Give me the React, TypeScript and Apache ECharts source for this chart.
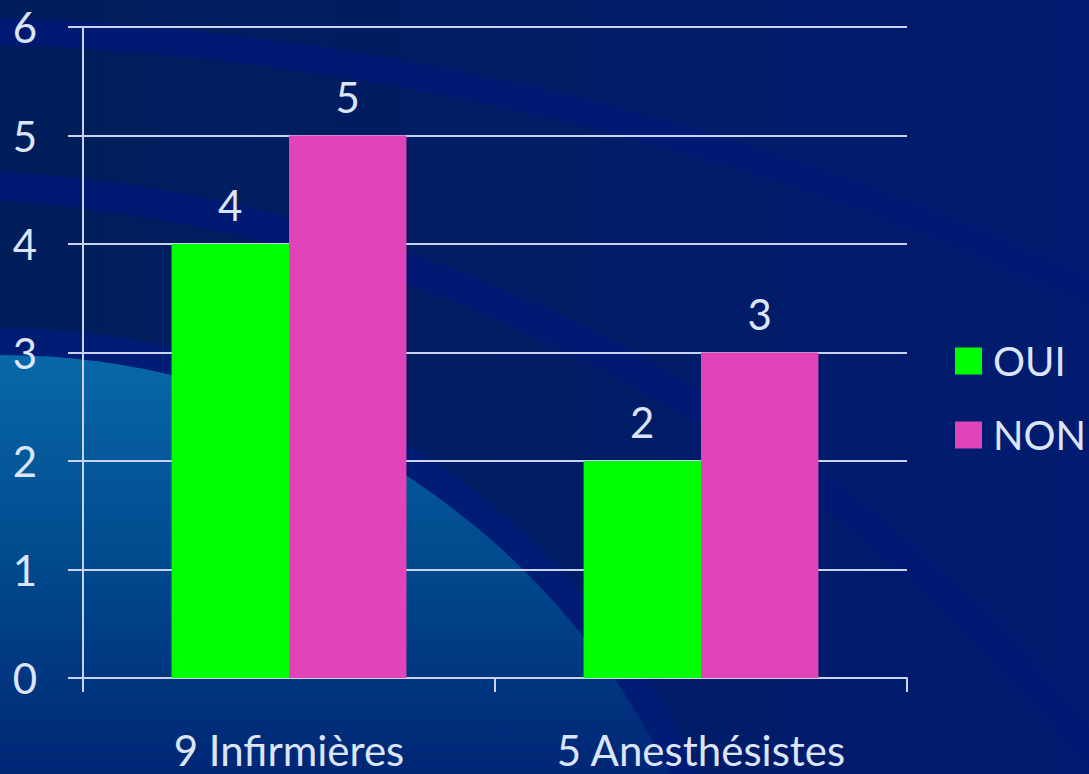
import React, { useEffect, useRef } from 'react';
import * as echarts from 'echarts';

const categories = ['9 Infirmières', '5 Anesthésistes'];
const seriesNames = ['OUI', 'NON'];
const ouiValues = [4, 2];
const nonValues = [5, 3];
const yMin = 0;
const yMax = 6;
const yStep = 1;

export default function App() {
  const ref = useRef<HTMLDivElement>(null);
  useEffect(() => {
    document.body.style.margin = '0';
    const chart = echarts.init(ref.current!, null, { renderer: 'svg' });
    const font = 'Lato';
    const textColor = '#dce4f8';
    const lineColor = '#c9d2ee';
    const G = echarts.graphic;
    chart.setOption({
      animation: false,
      backgroundColor: '#001d62',
      graphic: [
        {
          type: 'rect', z: -20, silent: true,
          shape: { x: 0, y: 0, width: 1089, height: 774 },
          style: {
            fill: new G.LinearGradient(0, 0, 1, 0, [
              { offset: 0, color: '#001e5a' },
              { offset: 1, color: '#011b70' },
            ]),
          },
        },
        {
          type: 'circle', z: -19, silent: true,
          shape: { cx: -91, cy: 2823, r: 2793 },
          style: { fill: 'none', stroke: '#001a74', lineWidth: 27 },
        },
        {
          type: 'circle', z: -19, silent: true,
          shape: { cx: -97, cy: 1710, r: 1527 },
          style: { fill: 'none', stroke: '#001a74', lineWidth: 30 },
        },
        {
          type: 'circle', z: -18, silent: true,
          shape: { cx: 0, cy: 1100, r: 772 },
          style: { fill: '#001c74' },
        },
        {
          type: 'circle', z: -17, silent: true,
          shape: { cx: 0, cy: 1100, r: 745 },
          style: {
            fill: new G.LinearGradient(0, 355, 0, 774, [
              { offset: 0, color: '#0868a8' },
              { offset: 0.55, color: '#00468a' },
              { offset: 1, color: '#002676' },
            ], true),
          },
        },
      ],
      grid: { left: 83, right: 182, top: 27, bottom: 96, containLabel: false },
      legend: {
        orient: 'vertical',
        left: 950,
        top: 334,
        itemWidth: 27,
        itemHeight: 27,
        itemGap: 30,
        icon: 'rect',
        data: seriesNames,
        textStyle: { color: textColor, fontSize: 40, fontFamily: font, lineHeight: 44, padding: [0, 0, 0, 6] },
      },
      xAxis: {
        type: 'category',
        data: categories,
        axisLine: { show: true, lineStyle: { color: lineColor, width: 2 } },
        axisTick: { show: true, length: 14, lineStyle: { color: lineColor, width: 2 } },
        axisLabel: { color: textColor, fontSize: 42, fontFamily: font, margin: 52, lineHeight: 40 },
      },
      yAxis: {
        type: 'value',
        min: yMin,
        max: yMax,
        interval: yStep,
        axisLine: { show: true, lineStyle: { color: lineColor, width: 2 } },
        axisTick: { show: true, length: 15, lineStyle: { color: lineColor, width: 2 } },
        splitLine: { show: true, lineStyle: { color: lineColor, width: 2 } },
        axisLabel: { color: textColor, fontSize: 42, fontFamily: font, margin: 46, align: 'right' },
      },
      series: [
        {
          name: seriesNames[0],
          type: 'bar',
          data: ouiValues,
          barGap: '0%',
          barCategoryGap: '43%',
          itemStyle: { color: '#00ff00' },
          label: { show: true, position: 'top', distance: 18, color: textColor, fontSize: 42, fontFamily: font },
        },
        {
          name: seriesNames[1],
          type: 'bar',
          data: nonValues,
          barGap: '0%',
          barCategoryGap: '43%',
          itemStyle: { color: '#e044b8' },
          label: { show: true, position: 'top', distance: 18, color: textColor, fontSize: 42, fontFamily: font },
        },
      ],
    });
    return () => chart.dispose();
  }, []);
  return <div ref={ref} style={{ position: 'fixed', left: 0, top: 0, width: 1089, height: 774 }} />;
}
